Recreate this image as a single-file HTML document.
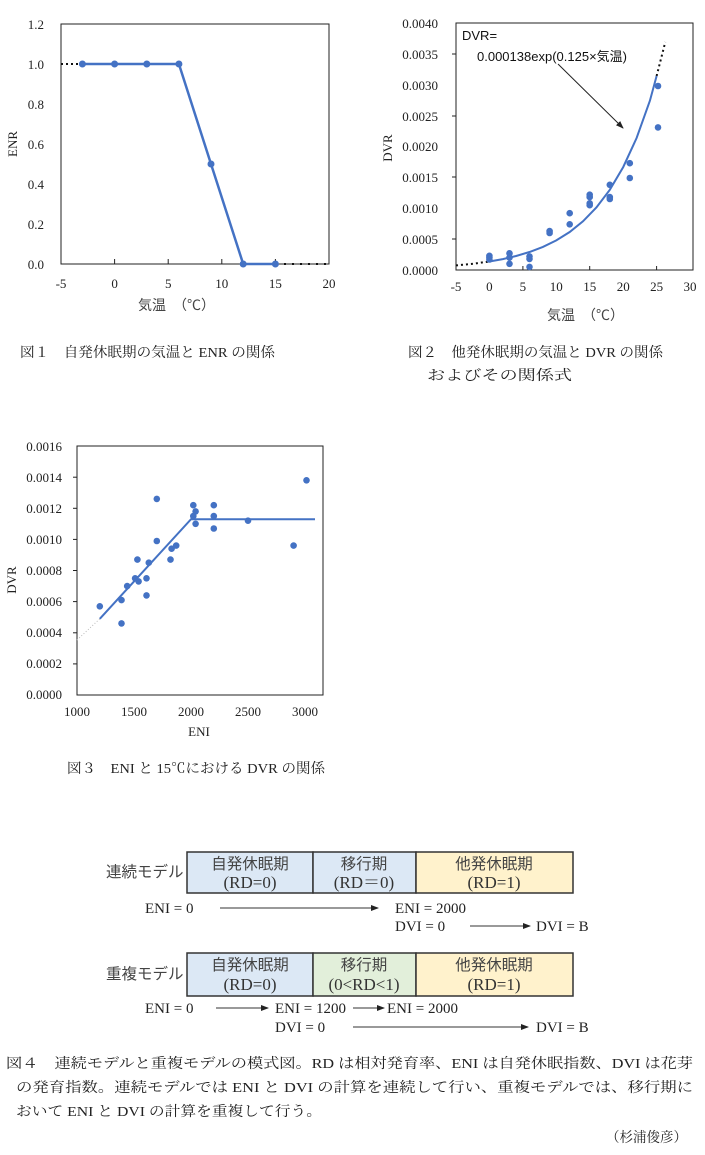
<!DOCTYPE html>
<html><head><meta charset="utf-8"><style>
body{margin:0;background:#fff;}
svg{display:block;}
.t{font-family:"Liberation Serif","Noto Serif CJK JP",serif;font-size:13px;fill:#222;}
.j{font-family:"Liberation Serif","Noto Serif CJK JP",serif;font-size:14px;fill:#222;}
.s{font-family:"Liberation Sans","Noto Sans CJK JP",sans-serif;font-size:14px;fill:#444;}
.a{font-family:"Liberation Sans","Noto Sans CJK JP",sans-serif;font-size:13px;fill:#111;}
</style></head><body>
<svg width="705" height="1155" viewBox="0 0 705 1155" xmlns="http://www.w3.org/2000/svg">
<defs><marker id="ar" markerWidth="8" markerHeight="6" refX="7" refY="3" orient="auto"><path d="M0,0 L8,3 L0,6z" fill="#222"/></marker></defs>
<!-- Chart 1 -->
<rect x="61" y="24" width="268" height="240" fill="none" stroke="#222" stroke-width="1"/>
<g class="t" text-anchor="end">
<text x="44" y="29">1.2</text><text x="44" y="69">1.0</text><text x="44" y="109">0.8</text><text x="44" y="149">0.6</text><text x="44" y="189">0.4</text><text x="44" y="229">0.2</text><text x="44" y="269">0.0</text></g>
<g stroke="#222"><line x1="114.6" y1="264" x2="114.6" y2="259"/><line x1="168.2" y1="264" x2="168.2" y2="259"/><line x1="221.8" y1="264" x2="221.8" y2="259"/><line x1="275.4" y1="264" x2="275.4" y2="259"/></g>
<g class="t" text-anchor="middle"><text x="61" y="288">-5</text><text x="114.6" y="288">0</text><text x="168.2" y="288">5</text><text x="221.8" y="288">10</text><text x="275.4" y="288">15</text><text x="329" y="288">20</text></g>
<text class="t" transform="translate(17,144) rotate(-90)" text-anchor="middle">ENR</text>
<text class="s" x="138" y="310">気温　（℃）</text>
<line x1="61" y1="64" x2="82" y2="64" stroke="#111" stroke-width="2" stroke-dasharray="2,3"/>
<line x1="276" y1="264" x2="329" y2="264" stroke="#111" stroke-width="2" stroke-dasharray="2,6"/>
<polyline points="82.4,64 114.6,64 146.8,64 178.9,64 211,164 243.2,264 275.4,264" fill="none" stroke="#4472c4" stroke-width="2.5"/>
<g fill="#4472c4"><circle cx="82.4" cy="64" r="3.5"/><circle cx="114.6" cy="64" r="3.5"/><circle cx="146.8" cy="64" r="3.5"/><circle cx="178.9" cy="64" r="3.5"/><circle cx="211" cy="164" r="3.5"/><circle cx="243.2" cy="264" r="3.5"/><circle cx="275.4" cy="264" r="3.5"/></g>
<text class="j" x="20" y="357" textLength="255" lengthAdjust="spacingAndGlyphs">図１　自発休眠期の気温と ENR の関係</text>
<!-- Chart 2 -->
<rect x="456" y="23" width="237" height="247" fill="none" stroke="#222" stroke-width="1"/>
<g class="t" text-anchor="end" style="font-size:13px">
<text x="438" y="28">0.0040</text><text x="438" y="59">0.0035</text><text x="438" y="90">0.0030</text><text x="438" y="121">0.0025</text><text x="438" y="151">0.0020</text><text x="438" y="182">0.0015</text><text x="438" y="213">0.0010</text><text x="438" y="244">0.0005</text><text x="438" y="275">0.0000</text></g>
<g stroke="#222"><line x1="452" y1="54" x2="456" y2="54"/><line x1="452" y1="116" x2="456" y2="116"/><line x1="452" y1="177" x2="456" y2="177"/><line x1="452" y1="239" x2="456" y2="239"/>
<line x1="522.9" y1="270" x2="522.9" y2="266"/><line x1="589.7" y1="270" x2="589.7" y2="266"/><line x1="656.6" y1="270" x2="656.6" y2="266"/></g>
<g class="t" text-anchor="middle"><text x="456" y="291">-5</text><text x="489.4" y="291">0</text><text x="522.9" y="291">5</text><text x="556.3" y="291">10</text><text x="589.7" y="291">15</text><text x="623.2" y="291">20</text><text x="656.6" y="291">25</text><text x="690" y="291">30</text></g>
<text class="t" transform="translate(392,148) rotate(-90)" text-anchor="middle">DVR</text>
<text class="s" x="547" y="320">気温　（℃）</text>
<text class="a" x="462" y="40">DVR=</text>
<text class="a" x="477" y="61" textLength="150" lengthAdjust="spacingAndGlyphs">0.000138exp(0.125×気温)</text>
<line x1="558" y1="64" x2="623" y2="128" stroke="#222" stroke-width="1" marker-end="url(#ar)"/>
<polyline points="456,265.4 472.7,263.8 489.4,261.5" fill="none" stroke="#111" stroke-width="2" stroke-dasharray="2,3"/>
<polyline points="656.6,76 665.3,42" fill="none" stroke="#111" stroke-width="2" stroke-dasharray="2,3"/>
<polyline points="489.4,261.5 502.8,259.1 516.1,256 529.5,252 542.9,246.9 556.3,240.4 569.7,232 583,221.3 596.4,207.5 609.8,189.8 623.2,167.1 636.6,138 649.9,100.7 656.6,76" fill="none" stroke="#4472c4" stroke-width="2"/>
<g fill="#4472c4">
<circle cx="489.4" cy="255.8" r="3.3"/><circle cx="489.4" cy="257.6" r="3.3"/><circle cx="489.4" cy="259.5" r="3.3"/>
<circle cx="509.5" cy="253.3" r="3.3"/><circle cx="509.5" cy="257.6" r="3.3"/><circle cx="509.5" cy="263.8" r="3.3"/>
<circle cx="529.5" cy="256.4" r="3.3"/><circle cx="529.5" cy="258.9" r="3.3"/><circle cx="529.5" cy="266.9" r="3.3"/>
<circle cx="549.6" cy="231.1" r="3.3"/><circle cx="549.6" cy="233" r="3.3"/>
<circle cx="569.7" cy="213.2" r="3.3"/><circle cx="569.7" cy="224.3" r="3.3"/>
<circle cx="589.7" cy="194.7" r="3.3"/><circle cx="589.7" cy="197.1" r="3.3"/><circle cx="589.7" cy="203.3" r="3.3"/><circle cx="589.7" cy="205.2" r="3.3"/>
<circle cx="609.8" cy="184.8" r="3.3"/><circle cx="609.8" cy="197.1" r="3.3"/><circle cx="609.8" cy="199" r="3.3"/>
<circle cx="629.8" cy="163.2" r="3.3"/><circle cx="629.8" cy="178" r="3.3"/>
<circle cx="658" cy="86" r="3.3"/><circle cx="658" cy="127.4" r="3.3"/></g>
<text class="j" x="408" y="357" textLength="255" lengthAdjust="spacingAndGlyphs">図２　他発休眠期の気温と DVR の関係</text>
<text class="j" x="427" y="380" textLength="145" lengthAdjust="spacingAndGlyphs">およびその関係式</text>
<!-- Chart 3 -->
<rect x="77" y="446" width="246" height="249" fill="none" stroke="#222" stroke-width="1"/>
<g class="t" text-anchor="end">
<text x="62" y="451">0.0016</text><text x="62" y="482">0.0014</text><text x="62" y="513">0.0012</text><text x="62" y="544">0.0010</text><text x="62" y="575">0.0008</text><text x="62" y="606">0.0006</text><text x="62" y="637">0.0004</text><text x="62" y="668">0.0002</text><text x="62" y="699">0.0000</text></g>
<g stroke="#222"><line x1="73" y1="477.2" x2="77" y2="477.2"/><line x1="73" y1="508.3" x2="77" y2="508.3"/><line x1="73" y1="539.4" x2="77" y2="539.4"/><line x1="73" y1="570.5" x2="77" y2="570.5"/><line x1="73" y1="601.6" x2="77" y2="601.6"/><line x1="73" y1="632.8" x2="77" y2="632.8"/><line x1="73" y1="663.9" x2="77" y2="663.9"/></g>
<g class="t" text-anchor="middle"><text x="77" y="716">1000</text><text x="134" y="716">1500</text><text x="191" y="716">2000</text><text x="248" y="716">2500</text><text x="305" y="716">3000</text></g>
<text class="t" transform="translate(16,580) rotate(-90)" text-anchor="middle">DVR</text>
<text class="t" x="199" y="736" text-anchor="middle">ENI</text>
<line x1="77" y1="640" x2="99.8" y2="618.8" stroke="#bbb" stroke-width="1" stroke-dasharray="1,2"/>
<polyline points="99.8,618.8 191,519.2 315,519.2" fill="none" stroke="#4472c4" stroke-width="2"/>
<g fill="#4472c4">
<circle cx="99.8" cy="606.3" r="3.3"/><circle cx="121.5" cy="600.1" r="3.3"/><circle cx="121.5" cy="623.4" r="3.3"/><circle cx="127.2" cy="586.1" r="3.3"/><circle cx="135.1" cy="578.3" r="3.3"/><circle cx="137.4" cy="559.6" r="3.3"/><circle cx="138.6" cy="581.4" r="3.3"/><circle cx="146.5" cy="595.4" r="3.3"/><circle cx="146.5" cy="578.3" r="3.3"/><circle cx="148.8" cy="562.7" r="3.3"/><circle cx="156.8" cy="498.9" r="3.3"/><circle cx="156.8" cy="541" r="3.3"/><circle cx="170.5" cy="559.6" r="3.3"/><circle cx="171.6" cy="548.7" r="3.3"/><circle cx="176.2" cy="545.6" r="3.3"/><circle cx="193.3" cy="505.2" r="3.3"/><circle cx="193.3" cy="516.1" r="3.3"/><circle cx="195.6" cy="511.4" r="3.3"/><circle cx="195.6" cy="523.8" r="3.3"/><circle cx="213.8" cy="505.2" r="3.3"/><circle cx="213.8" cy="516.1" r="3.3"/><circle cx="213.8" cy="528.5" r="3.3"/><circle cx="248" cy="520.7" r="3.3"/><circle cx="293.6" cy="545.6" r="3.3"/><circle cx="306.5" cy="480.3" r="3.3"/></g>
<text class="j" x="67" y="773" textLength="258" lengthAdjust="spacingAndGlyphs">図３　ENI と 15℃における DVR の関係</text>
<!-- Diagram 4 -->
<g stroke="#333" stroke-width="1.5">
<rect x="187" y="852" width="126" height="41" fill="#dce8f5"/><rect x="313" y="852" width="103" height="41" fill="#dce8f5"/><rect x="416" y="852" width="157" height="41" fill="#fff2cc"/>
<rect x="187" y="953" width="126" height="43" fill="#dce8f5"/><rect x="313" y="953" width="103" height="43" fill="#e2efda"/><rect x="416" y="953" width="157" height="43" fill="#fff2cc"/></g>
<g class="s" text-anchor="middle" style="font-size:15.5px">
<text x="250" y="869">自発休眠期</text><text x="364" y="869">移行期</text><text x="494" y="869">他発休眠期</text>
<text x="250" y="970">自発休眠期</text><text x="364" y="970">移行期</text><text x="494" y="970">他発休眠期</text></g>
<g class="t" text-anchor="middle" style="font-size:17px;fill:#333">
<text x="250" y="888">(RD=0)</text><text x="364" y="888">(RD＝0)</text><text x="494" y="888">(RD=1)</text>
<text x="250" y="990">(RD=0)</text><text x="364" y="990">(0&lt;RD&lt;1)</text><text x="494" y="990">(RD=1)</text></g>
<text class="s" x="106" y="877" style="font-size:15.5px">連続モデル</text>
<text class="s" x="106" y="979" style="font-size:15.5px">重複モデル</text>
<g class="t" style="font-size:15px">
<text x="145" y="913">ENI = 0</text><text x="395" y="913">ENI = 2000</text><text x="395" y="931">DVI = 0</text><text x="536" y="931">DVI = B</text>
<text x="145" y="1013">ENI = 0</text><text x="275" y="1013">ENI = 1200</text><text x="387" y="1013">ENI  = 2000</text><text x="275" y="1032">DVI = 0</text><text x="536" y="1032">DVI = B</text></g>
<g stroke="#333" stroke-width="1" marker-end="url(#ar)">
<line x1="220" y1="908" x2="378" y2="908"/><line x1="470" y1="926" x2="530" y2="926"/>
<line x1="216" y1="1008" x2="268" y2="1008"/><line x1="353" y1="1008" x2="384" y2="1008"/><line x1="353" y1="1027" x2="528" y2="1027"/></g>
<g class="j">
<text x="6" y="1068" textLength="687" lengthAdjust="spacingAndGlyphs">図４　連続モデルと重複モデルの模式図。RD は相対発育率、ENI は自発休眠指数、DVI は花芽</text>
<text x="16" y="1092" textLength="677" lengthAdjust="spacingAndGlyphs">の発育指数。連続モデルでは ENI と DVI の計算を連続して行い、重複モデルでは、移行期に</text>
<text x="16" y="1116" textLength="306" lengthAdjust="spacingAndGlyphs">おいて ENI と DVI の計算を重複して行う。</text>
<text x="606" y="1142" textLength="81" lengthAdjust="spacingAndGlyphs">（杉浦俊彦）</text></g>
</svg>
</body></html>
